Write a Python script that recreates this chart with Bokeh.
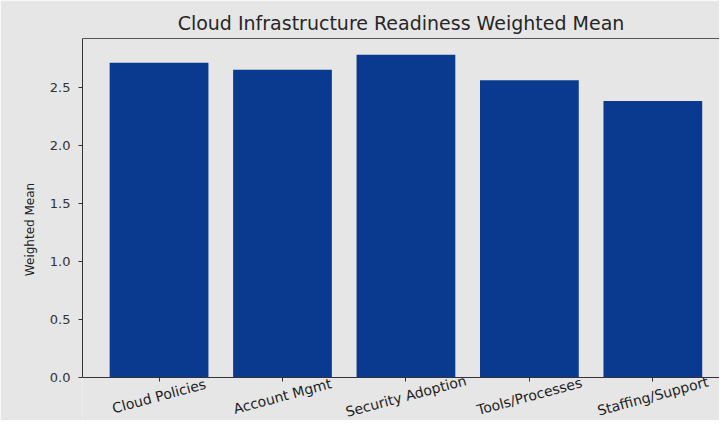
from bokeh.plotting import figure
from bokeh.models import Range1d, FixedTicker, LinearAxis, NumeralTickFormatter, ColumnDataSource
from bokeh.core.properties import value
from bokeh.embed import file_html
from bokeh.resources import INLINE
import math

categories = ["Cloud Policies", "Account Mgmt", "Security Adoption", "Tools/Processes", "Staffing/Support"]
weighted_mean = [2.71, 2.65, 2.78, 2.56, 2.38]
y_ticks = [0.0, 0.5, 1.0, 1.5, 2.0, 2.5]

idx = list(range(len(categories)))
LABEL_Y = -0.16
src = ColumnDataSource(dict(x=idx, top=weighted_mean, name=categories, ly=[LABEL_Y] * len(categories)))

BG = "#e6e6e6"
FONT = "DejaVu Sans"
Y_END = max(weighted_mean) * 1.05
Y_START = -0.37

p = figure(width=719, height=420, output_backend="svg", toolbar_location=None,
           x_range=Range1d(-0.62, 4.54), y_range=Range1d(Y_START, Y_END),
           title="Cloud Infrastructure Readiness Weighted Mean",
           min_border_left=82, min_border_bottom=0, min_border_top=38, min_border_right=0)

p.background_fill_color = BG
p.border_fill_color = BG
p.outline_line_color = None
p.grid.visible = False

p.title.align = "center"
p.title.text_font = FONT
p.title.text_font_style = "normal"
p.title.text_font_size = "19px"
p.title.text_color = "#262626"

p.vbar(x="x", top="top", width=0.8, source=src, fill_color="#0a3a8f", line_color=None)

p.text(x="x", y="ly", text="name", source=src, angle=math.radians(15),
       text_align="center", text_baseline="middle", text_font=value(FONT),
       text_font_size="14px", text_color="#1e1e1e")

xa = p.xaxis[0]
xa.fixed_location = 0
xa.ticker = FixedTicker(ticks=idx)
xa.major_label_overrides = {i: "" for i in idx}
xa.major_label_standoff = 0
xa.minor_tick_line_color = None
xa.major_tick_in = 0
xa.major_tick_out = 4
xa.axis_line_color = "#333333"
xa.major_tick_line_color = "#333333"

ya = p.yaxis[0]
ya.bounds = (0, Y_END)
ya.ticker = FixedTicker(ticks=y_ticks)
ya.formatter = NumeralTickFormatter(format="0.0")
ya.axis_label = "Weighted Mean"
ya.axis_label_text_font = FONT
ya.axis_label_text_font_size = "12px"
ya.axis_label_text_font_style = "normal"
ya.axis_label_text_color = "#222222"
ya.axis_label_standoff = 10
ya.major_label_standoff = 8
ya.major_label_text_font = FONT
ya.major_label_text_font_size = "13px"
ya.major_label_text_color = "#333333"
ya.minor_tick_line_color = None
ya.major_tick_in = 0
ya.major_tick_out = 4
ya.axis_line_color = "#333333"
ya.major_tick_line_color = "#333333"

top_axis = LinearAxis(ticker=FixedTicker(ticks=[]), major_label_text_font_size="0px",
                      major_tick_out=0, major_tick_in=0, minor_tick_line_color=None,
                      axis_line_color="#555555")
p.add_layout(top_axis, "above")

open("out.html", "w").write(file_html(p, INLINE))
